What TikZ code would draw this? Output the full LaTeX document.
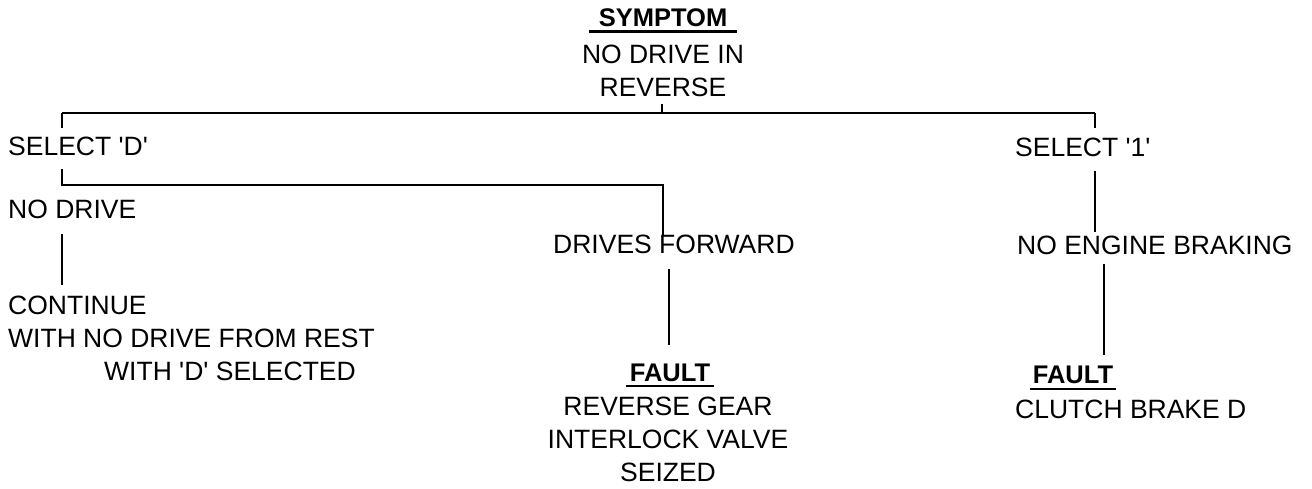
\documentclass[tikz,border=0pt]{standalone}
\usepackage{fontspec}
\setmainfont{Liberation Sans}
\begin{document}
\begin{tikzpicture}[x=1pt,y=-1pt,
  txt/.style={inner sep=0pt, font=\fontsize{26.5}{33}\selectfont},
  ttl/.style={inner sep=0pt, font=\fontsize{25.5}{33}\selectfont\bfseries},
  conn/.style={line width=2.4pt},
  rule/.style={line width=2.4pt}]
\useasboundingbox (0,0) rectangle (1312,488);
% nodes
\node[ttl, anchor=north] (symt) at (663,8) {SYMPTOM};
\node[txt, anchor=north, align=center] (symd) at (663,45) {NO DRIVE IN\\REVERSE};
\node[txt, anchor=north west] (selD) at (8,137) {SELECT \textquotesingle D\textquotesingle};
\node[txt, anchor=north west] (sel1) at (1015,138) {SELECT \textquotesingle 1\textquotesingle};
\node[txt, anchor=north west] (nod) at (8,200) {NO DRIVE};
\node[txt, anchor=north west, align=left] (cont) at (8,296) {CONTINUE\\WITH NO DRIVE FROM REST\\\hspace*{96pt}WITH \textquotesingle D\textquotesingle\ SELECTED};
\node[txt, anchor=north west] (dfw) at (553,235) {DRIVES FORWARD};
\node[ttl, anchor=north] (f1t) at (670,364) {FAULT};
\node[txt, anchor=north, align=center] (f1d) at (668,397) {REVERSE GEAR\\INTERLOCK VALVE\\SEIZED};
\node[txt, anchor=north west] (neb) at (1017,236) {NO ENGINE BRAKING};
\node[ttl, anchor=north] (f2t) at (1073,366) {FAULT};
\node[txt, anchor=north west] (f2d) at (1015,400) {CLUTCH BRAKE D};
% underlines
\draw[rule] ([xshift=-10pt,yshift=-5pt]symt.south west) -- ([xshift=10pt,yshift=-5pt]symt.south east);
\draw[rule] ([xshift=-4pt,yshift=-4pt]f1t.south west) -- ([xshift=4pt,yshift=-4pt]f1t.south east);
\draw[rule] ([xshift=-3pt,yshift=-5pt]f2t.south west) -- ([xshift=3pt,yshift=-5pt]f2t.south east);
% junctions
\coordinate (j0) at (662,113);
\coordinate (jL) at (62,113);
\coordinate (jR) at (1095,113);
\coordinate (jD) at (62,185);
\coordinate (jF) at (663,185);
\coordinate (jN) at (1104,0);
% connectors
\draw[conn, shorten <=7pt] (symd.south -| j0) -- (j0);
\draw[conn] (jL) -- (jR);
\draw[conn, shorten >=9pt] (jL) -- (jL |- selD.north);
\draw[conn, shorten >=10pt] (jR) -- (jR |- sel1.north);
\draw[conn, shorten <=13pt] (jD |- selD.south) -- (jD) -- (jF) -- (jF |- dfw.north);
\draw[conn, shorten <=15pt, shorten >=11pt] (jD |- nod.south) -- (jD |- cont.north);
\draw[conn, shorten <=15pt, shorten >=19pt] ([xshift=-5pt]dfw.south) -- ([xshift=-5pt]dfw.south |- f1t.north);
\draw[conn, shorten <=14pt, shorten >=4pt] (jR |- sel1.south) -- (jR |- neb.north);
\draw[conn, shorten <=9pt, shorten >=11pt] (jN |- neb.south) -- (jN |- f2t.north);
\end{tikzpicture}
\end{document}
